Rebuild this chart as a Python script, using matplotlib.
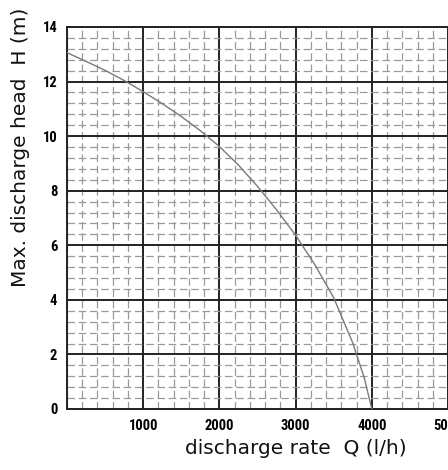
import matplotlib
matplotlib.use("Agg")
import matplotlib.pyplot as plt
from matplotlib.ticker import MultipleLocator
from matplotlib.font_manager import FontProperties

# --- data --------------------------------------------------------------------
flow = [0, 250, 500, 750, 1000, 1250, 1500, 1750, 2000, 2250, 2500,
        2750, 3000, 3250, 3500, 3750, 3900, 4000]
head = [13.06, 12.74, 12.41, 12.04, 11.63, 11.19, 10.72, 10.2, 9.62, 8.94,
        8.16, 7.3, 6.37, 5.3, 4.08, 2.42, 1.15, 0.0]

x_ticks = [1000, 2000, 3000, 4000, 5000]
y_ticks = [0, 2, 4, 6, 8, 10, 12, 14]

tick_prop = FontProperties(family=["Roboto Condensed", "Liberation Sans Narrow", "Roboto"],
                           weight="bold", size=10.5)
label_font = dict(family=["DejaVu Sans"], size=14.5, color="#111111")

fig = plt.figure(figsize=(4.48, 4.70), dpi=100)
ax = fig.add_axes([67 / 448, 1 - 409 / 470, 1 - 67 / 448, (409 - 27) / 470])

ax.plot(flow, head, color="#7a7a7a", lw=1.0, zorder=4)

ax.set_xlim(0, 5000)
ax.set_ylim(0, 14)
ax.set_xticks(x_ticks)
ax.set_yticks(y_ticks)
ax.xaxis.set_minor_locator(MultipleLocator(200))
ax.yaxis.set_minor_locator(MultipleLocator(0.4))

# grid: solid major, dashed minor
ax.grid(which="major", color="#222222", lw=1.4, zorder=2)
ax.grid(which="minor", color="#9a9a9a", lw=0.9, linestyle=(0, (6, 3)), zorder=1)
ax.set_axisbelow(True)

ax.tick_params(which="both", length=0)
ax.tick_params(axis="x", pad=7)
ax.tick_params(axis="y", pad=7)
for lab in ax.get_xticklabels() + ax.get_yticklabels():
    lab.set_fontproperties(tick_prop)

for side in ["left", "bottom", "top"]:
    ax.spines[side].set_color("#222222")
    ax.spines[side].set_linewidth(1.4)
ax.spines["right"].set_visible(False)

fig.text(296 / 448, 1 - 449 / 470, "discharge rate  Q (l/h)", ha="center", va="center", **label_font)
fig.text(21 / 448, 1 - 147 / 470, "Max. discharge head  H (m)", ha="center", va="center",
         rotation=90, **label_font)

fig.savefig("out.png", dpi=100)
